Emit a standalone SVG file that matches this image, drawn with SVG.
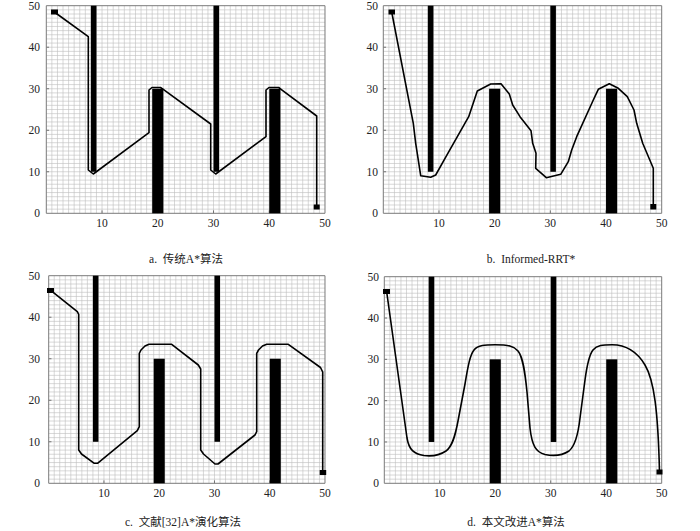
<svg xmlns="http://www.w3.org/2000/svg" xmlns:xlink="http://www.w3.org/1999/xlink" width="700" height="531" viewBox="0 0 700 531">
<style>
.grid{fill:none;stroke:#bdbdbd;stroke-width:0.6;vector-effect:non-scaling-stroke}
.frame{fill:none;stroke:#7a7a7a;stroke-width:1;vector-effect:non-scaling-stroke}
.tick{fill:none;stroke:#555;stroke-width:0.8;vector-effect:non-scaling-stroke}
.obs{fill:#000}
.route{fill:none;stroke:#000;stroke-width:1.6;stroke-linejoin:round;stroke-linecap:round}
.mark{fill:#000}
.lbl{font-family:"Liberation Serif","Times New Roman",serif;font-size:11.5px;fill:#222}
.yl{text-anchor:end}
.xl{text-anchor:middle}
.cap{font-family:"Liberation Serif","Noto Sans CJK SC",serif;font-size:11.5px;fill:#222;text-anchor:middle;white-space:pre}
</style>
<defs>
<g id="plotbase">
<rect x="0" y="0" width="50" height="50" fill="#fff"/>
<path class="grid" d="M1 0V50M2 0V50M3 0V50M4 0V50M5 0V50M6 0V50M7 0V50M8 0V50M9 0V50M10 0V50M11 0V50M12 0V50M13 0V50M14 0V50M15 0V50M16 0V50M17 0V50M18 0V50M19 0V50M20 0V50M21 0V50M22 0V50M23 0V50M24 0V50M25 0V50M26 0V50M27 0V50M28 0V50M29 0V50M30 0V50M31 0V50M32 0V50M33 0V50M34 0V50M35 0V50M36 0V50M37 0V50M38 0V50M39 0V50M40 0V50M41 0V50M42 0V50M43 0V50M44 0V50M45 0V50M46 0V50M47 0V50M48 0V50M49 0V50M0 1H50M0 2H50M0 3H50M0 4H50M0 5H50M0 6H50M0 7H50M0 8H50M0 9H50M0 10H50M0 11H50M0 12H50M0 13H50M0 14H50M0 15H50M0 16H50M0 17H50M0 18H50M0 19H50M0 20H50M0 21H50M0 22H50M0 23H50M0 24H50M0 25H50M0 26H50M0 27H50M0 28H50M0 29H50M0 30H50M0 31H50M0 32H50M0 33H50M0 34H50M0 35H50M0 36H50M0 37H50M0 38H50M0 39H50M0 40H50M0 41H50M0 42H50M0 43H50M0 44H50M0 45H50M0 46H50M0 47H50M0 48H50M0 49H50"/>
<path class="tick" d="M10 0V0.7M20 0V0.7M30 0V0.7M40 0V0.7M0 10H0.5M0 20H0.5M0 30H0.5M0 40H0.5"/>
<rect class="frame" x="0" y="0" width="50" height="50"/>
<rect class="obs" x="8" y="10" width="1" height="40"/>
<rect class="obs" x="19" y="0" width="2" height="30"/>
<rect class="obs" x="30" y="10" width="1" height="40"/>
<rect class="obs" x="40" y="0" width="2" height="30"/>
</g>
</defs>

<g id="panel-a">
<use xlink:href="#plotbase" href="#plotbase" transform="translate(46.3,213.3) scale(5.574,-4.152)"/>
<g class="lbl yl"><text x="40" y="9.7">50</text><text x="40" y="51.2">40</text><text x="40" y="92.7">30</text><text x="40" y="134.3">20</text><text x="40" y="175.8">10</text><text x="40" y="217.3">0</text></g>
<g class="lbl xl"><text x="102" y="226.5">10</text><text x="157.8" y="226.5">20</text><text x="213.5" y="226.5">30</text><text x="269.3" y="226.5">40</text><text x="325" y="226.5">50</text></g>
<path class="route" d="M54.3,12 L88.3,36.7 L88.3,170 L93.3,174 L149,132.7 L149,90 L152,87.5 L160.5,87.5 L163.6,89.6 L210.7,124 L210.7,170 L215.7,174 L266,136.7 L266,90 L269,87.5 L278.7,87.5 L281.4,89.6 L316.7,116 L316.7,207"/>
<rect class="mark" x="51" y="9.5" width="7" height="5"/>
<rect class="mark" x="313.7" y="204.5" width="6" height="5"/>
<text class="cap" x="186" y="263">a.  传统A*算法</text>
</g>

<g id="panel-b">
<use xlink:href="#plotbase" href="#plotbase" transform="translate(383.3,213.3) scale(5.568,-4.152)"/>
<g class="lbl yl"><text x="378" y="9.7">50</text><text x="378" y="51.2">40</text><text x="378" y="92.7">30</text><text x="378" y="134.3">20</text><text x="378" y="175.8">10</text><text x="378" y="217.3">0</text></g>
<g class="lbl xl"><text x="439" y="226.5">10</text><text x="494.7" y="226.5">20</text><text x="550.3" y="226.5">30</text><text x="606" y="226.5">40</text><text x="661.7" y="226.5">50</text></g>
<path class="route" d="M391.7,12 L413.3,123.3 L415.7,143.3 L420.7,175.7 L430.7,177.3 L435.7,175 L446,156.7 L468.7,116.7 L477.3,91 L490.7,84 L501,83.7 L509.3,94 L512.7,105 L520,116.7 L531,130.7 L532.7,143.3 L536,153.3 L535.7,168.3 L546.3,177.7 L560.7,174.3 L568.3,161.7 L571.7,150 L576.7,136.7 L593.3,100 L598.3,89.3 L609.3,83.7 L618.3,88.3 L627.3,96.7 L634,110 L636.7,123.3 L642.7,143.3 L653.3,168.3 L653.3,206.7"/>
<rect class="mark" x="388.5" y="9.5" width="6.5" height="5"/>
<rect class="mark" x="650.3" y="204" width="6" height="5.5"/>
<text class="cap" x="531" y="263">b.  Informed-RRT*</text>
</g>

<g id="panel-c">
<use xlink:href="#plotbase" href="#plotbase" transform="translate(48.7,483.3) scale(5.526,-4.152)"/>
<g class="lbl yl"><text x="40" y="279.7">50</text><text x="40" y="321.2">40</text><text x="40" y="362.7">30</text><text x="40" y="404.3">20</text><text x="40" y="445.8">10</text><text x="40" y="487.3">0</text></g>
<g class="lbl xl"><text x="104" y="497.3">10</text><text x="159.2" y="497.3">20</text><text x="214.5" y="497.3">30</text><text x="269.7" y="497.3">40</text><text x="325" y="497.3">50</text></g>
<path class="route" d="M50.7,290.3 L77.3,311.7 L78.7,314.3 L78.7,450 L81.5,454 L94.3,463.3 L97.5,463.3 L137.3,430.7 L139.3,426.7 L139.3,353.3 L141,350 L145,346 L149,344.3 L171.7,344.3 L198.3,365 L200.7,369 L200.7,450 L203.5,454 L215,464 L218,464 L255,435 L256.7,431.7 L256.7,353.3 L258.5,350 L262.5,346 L266.7,344.3 L288.3,344.3 L320.5,367.5 L322.7,372 L322.7,472"/>
<rect class="mark" x="47" y="288" width="7" height="5"/>
<rect class="mark" x="319.7" y="470" width="6.5" height="5"/>
<text class="cap" x="183" y="526">c.  文献[32]A*演化算法</text>
</g>

<g id="panel-d">
<use xlink:href="#plotbase" href="#plotbase" transform="translate(384.3,483.3) scale(5.548,-4.132)"/>
<g class="lbl yl"><text x="379" y="280.7">50</text><text x="379" y="322">40</text><text x="379" y="363.3">30</text><text x="379" y="404.6">20</text><text x="379" y="445.9">10</text><text x="379" y="487.3">0</text></g>
<g class="lbl xl"><text x="439.8" y="497.3">10</text><text x="495.3" y="497.3">20</text><text x="550.7" y="497.3">30</text><text x="606.2" y="497.3">40</text><text x="661.7" y="497.3">50</text></g>
<path class="route" d="M386.7,292 L407,438 C409,450 414,454 424,455.5 C432,456.5 440,455 446,451 C452,447 455,437 458,421 L465,384 C468,366 470,355 474,350 C478,345 485,344.8 495,344.8 C508,344.8 514,346 518,351 C523,357 525,372 527,392 L530,428 C532,446 536,452 545,454.5 C555,456.5 563,455 569,451 C575,446 578,436 580,418 L585,380 C587,365 589,355 593,350 C597,345 603,344.8 612,344.8 C625,344.8 636,350 645,365 C654,380 658,410 659.5,472"/>
<rect class="mark" x="383" y="289" width="7" height="5"/>
<rect class="mark" x="656.5" y="469.5" width="6" height="5"/>
<text class="cap" x="516" y="526">d.  本文改进A*算法</text>
</g>
</svg>
